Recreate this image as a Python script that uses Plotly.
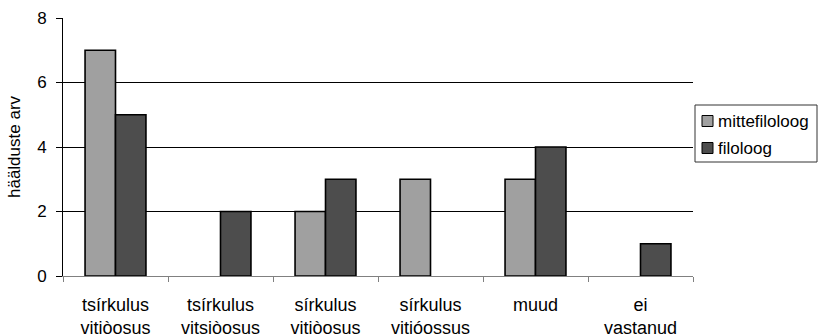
import plotly.graph_objects as go

# Pronunciation variants (x categories) and vote counts per respondent group
categories = [
    "tsírkulus<br>vitiòosus",
    "tsírkulus<br>vitsiòosus",
    "sírkulus<br>vitiòosus",
    "sírkulus<br>vitióossus",
    "muud",
    "ei<br>vastanud",
]
series_names = ["mittefiloloog", "filoloog"]
mittefiloloog = [7, 0, 2, 3, 3, 0]
filoloog = [5, 2, 3, 0, 4, 1]
y_ticks = [0, 2, 4, 6, 8]

colors = ["#a0a0a0", "#4d4d4d"]
FONT = "Liberation Sans, Arial, Helvetica, sans-serif"

fig = go.Figure()
for name, vals, col in zip(series_names, [mittefiloloog, filoloog], colors):
    fig.add_trace(go.Bar(
        x=categories, y=vals, name=name,
        # empty categories get no outline so nothing shows at the baseline
        marker=dict(color=col,
                    line=dict(color="black", width=[0 if v == 0 else 1.6 for v in vals])),
        showlegend=False,
    ))

fig.update_layout(
    width=818, height=335,
    margin=dict(l=63, r=125, t=18, b=59, autoexpand=False),
    paper_bgcolor="white", plot_bgcolor="white",
    barmode="group", bargap=0.42, bargroupgap=0,
    font=dict(family=FONT, size=17, color="black"),
)
fig.update_xaxes(
    showgrid=False, showline=True, linecolor="#808080", linewidth=1,
    ticks="outside", tickson="boundaries", ticklen=5, tickcolor="#808080",
    tickfont=dict(size=18), ticklabelstandoff=12,
)
fig.update_yaxes(
    range=[0, 8], tickvals=y_ticks, showgrid=True, gridcolor="black", gridwidth=1,
    showline=True, linecolor="black", linewidth=1,
    ticks="outside", ticklen=6, tickcolor="black",
    tickfont=dict(size=17), ticklabelstandoff=6,
    zeroline=False,
    title=dict(text="häälduste arv", font=dict(size=17), standoff=12),
)

# Legend drawn as a boxed key to the right of the plot
bx0, by0, bx1, by1 = 695, 105, 817, 162
pl, pr, pt, pb = 63, 818 - 125, 18, 335 - 59

def px(xp):
    return (xp - pl) / (pr - pl)

def py(yp):
    return (pb - yp) / (pb - pt)

fig.add_shape(type="rect", xref="paper", yref="paper",
              x0=px(bx0), x1=px(bx1), y0=py(by1), y1=py(by0),
              line=dict(color="#333333", width=1), fillcolor="white", layer="above")
row_y = [121, 148]
for name, col, ry in zip(series_names, colors, row_y):
    fig.add_shape(type="rect", xref="paper", yref="paper",
                  x0=px(702), x1=px(713), y0=py(ry + 5.5), y1=py(ry - 5.5),
                  line=dict(color="black", width=1), fillcolor=col, layer="above")
    fig.add_annotation(xref="paper", yref="paper", x=px(716), y=py(ry),
                       text=name, showarrow=False, xanchor="left", yanchor="middle",
                       font=dict(family=FONT, size=17, color="black"))

fig.write_html("out.html")
